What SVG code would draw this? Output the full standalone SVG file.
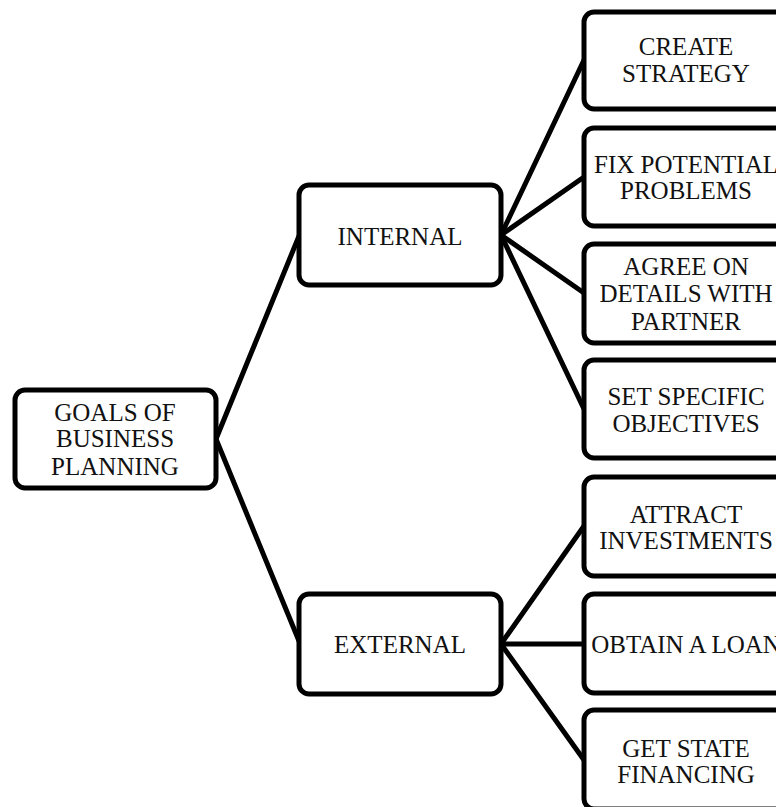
<svg xmlns="http://www.w3.org/2000/svg" width="776" height="807" viewBox="0 0 776 807">
<style>
.box{fill:#fff;stroke:#000;stroke-width:5}
.t{font-family:"Liberation Serif","DejaVu Serif",serif;font-size:25px;fill:#111;text-anchor:middle}
.c{stroke:#000;stroke-width:5;fill:none;stroke-linecap:round}
</style>
<rect width="776" height="807" fill="#fff"/>
<g id="connectors">
<line class="c" x1="216" y1="439" x2="299" y2="236"/>
<line class="c" x1="216" y1="439" x2="299" y2="641"/>
<line class="c" x1="501" y1="235" x2="584" y2="60"/>
<line class="c" x1="501" y1="235" x2="584" y2="177"/>
<line class="c" x1="501" y1="235" x2="584" y2="293"/>
<line class="c" x1="501" y1="235" x2="584" y2="409"/>
<line class="c" x1="501" y1="644" x2="584" y2="526"/>
<line class="c" x1="501" y1="644" x2="584" y2="644"/>
<line class="c" x1="501" y1="644" x2="584" y2="760"/>
</g>
<g id="goals">
<rect class="box" x="15" y="390" width="201" height="98" rx="10"/>
<text class="t" x="115" y="421">GOALS OF</text>
<text class="t" x="115" y="447">BUSINESS</text>
<text class="t" x="115" y="475">PLANNING</text>
</g>
<g id="internal">
<rect class="box" x="299" y="185" width="202" height="100" rx="10"/>
<text class="t" x="400" y="245">INTERNAL</text>
</g>
<g id="external">
<rect class="box" x="299" y="594" width="202" height="100" rx="10"/>
<text class="t" x="400" y="653">EXTERNAL</text>
</g>
<g id="create-strategy">
<rect class="box" x="584" y="12" width="206" height="97" rx="10"/>
<text class="t" x="686" y="55">CREATE</text>
<text class="t" x="686" y="82">STRATEGY</text>
</g>
<g id="fix-potential-problems">
<rect class="box" x="584" y="128" width="206" height="98" rx="10"/>
<text class="t" x="686" y="173">FIX POTENTIAL</text>
<text class="t" x="686" y="199">PROBLEMS</text>
</g>
<g id="agree-details">
<rect class="box" x="584" y="244" width="206" height="99" rx="10"/>
<text class="t" x="686" y="275">AGREE ON</text>
<text class="t" x="686" y="302">DETAILS WITH</text>
<text class="t" x="686" y="330">PARTNER</text>
</g>
<g id="set-objectives">
<rect class="box" x="584" y="360" width="206" height="98" rx="10"/>
<text class="t" x="686" y="405">SET SPECIFIC</text>
<text class="t" x="686" y="432">OBJECTIVES</text>
</g>
<g id="attract-investments">
<rect class="box" x="584" y="477" width="206" height="99" rx="10"/>
<text class="t" x="686" y="523">ATTRACT</text>
<text class="t" x="686" y="549">INVESTMENTS</text>
</g>
<g id="obtain-loan">
<rect class="box" x="584" y="594" width="206" height="99" rx="10"/>
<text class="t" x="686" y="653">OBTAIN A LOAN</text>
</g>
<g id="state-financing">
<rect class="box" x="584" y="710" width="206" height="99" rx="10"/>
<text class="t" x="686" y="757">GET STATE</text>
<text class="t" x="686" y="783">FINANCING</text>
</g>
</svg>
